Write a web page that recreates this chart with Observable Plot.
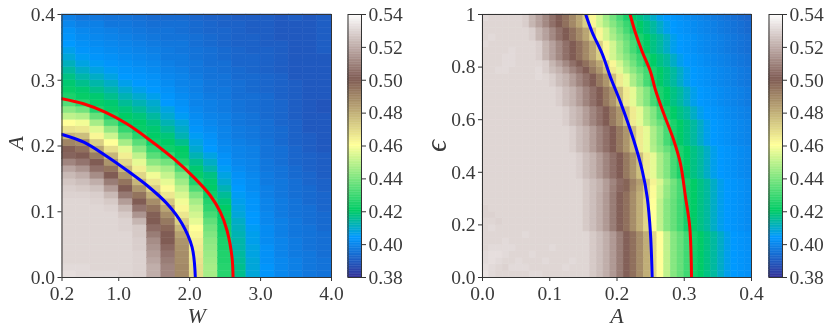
<!DOCTYPE html>
<html><head><meta charset="utf-8">
<script src="https://cdn.jsdelivr.net/npm/d3@7"></script>
<script src="https://cdn.jsdelivr.net/npm/@observablehq/plot@0.6"></script>
<style>
html,body{margin:0;padding:0;background:#fff;}
#chart{position:relative;width:830px;height:333px;overflow:hidden;filter:blur(0.35px);}
#chart svg{position:absolute;top:0;overflow:visible;background:none;}
</style></head><body><div id="chart"></div>
<script>
// Left panel: one list per W column (0.2 wide), values bottom-up per A row (0.01 tall), in thousandths
const leftColumns = [
[532,531,530,530,530,530,530,530,530,530,530,530,529,528,526,523,518,510,502,499,490,478,467,460,450,442,433,424,421,419,417,414,411,408,406,404,403,402,400,398],
[531,531,530,530,530,530,530,530,530,530,530,530,529,527,524,520,514,506,500,495,488,476,466,458,448,438,426,421,419,416,413,410,407,405,403,402,401,400,398,396],
[531,530,530,530,530,530,530,530,530,530,530,529,528,525,520,512,505,500,492,482,472,462,455,446,436,425,421,419,416,413,410,407,405,403,402,401,400,399,398,396],
[531,530,530,530,530,530,530,530,530,530,529,527,523,516,508,500,494,486,478,468,460,452,443,432,424,421,419,416,413,410,407,405,403,402,401,400,399,398,396,395],
[530,530,530,530,530,530,530,529,529,527,523,516,507,500,494,486,478,470,464,456,446,436,428,421,420,418,415,412,409,406,404,403,402,401,400,399,398,397,396,395],
[529,529,529,529,528,528,527,527,522,514,506,500,494,486,478,470,464,456,450,442,434,426,421,420,418,415,412,409,406,404,403,402,401,400,399,398,397,396,395,394],
[520,520,518,516,514,512,508,504,500,499,494,488,480,472,466,458,450,442,434,428,422,420,419,417,414,411,409,406,404,403,402,401,400,399,398,397,396,395,394,393],
[510,510,508,506,503,500,500,497,493,488,482,474,466,461,456,451,446,438,428,422,420,418,415,412,409,407,404,403,402,401,400,399,398,397,397,396,395,395,394,393],
[489,489,488,488,487,486,483,478,472,466,462,458,454,450,445,440,432,425,421,420,416,412,410,408,405,403,402,401,400,399,399,398,397,397,396,396,395,394,394,393],
[468,468,467,466,465,464,462,460,456,453,450,446,440,432,425,421,419,416,412,409,407,405,403,402,401,400,399,399,398,398,397,396,396,395,395,394,394,393,393,392],
[446,446,445,444,443,442,440,438,435,431,427,425,422,420,419,417,413,410,407,404,403,402,401,400,399,398,398,397,396,396,395,395,394,394,394,393,393,392,392,391],
[426,426,425,425,424,424,423,422,421,421,420,418,415,412,409,407,405,403,402,401,400,399,399,398,398,397,397,396,396,395,395,394,394,393,393,392,392,392,391,391],
[416,416,415,414,413,413,412,411,410,408,407,406,405,404,403,402,401,400,399,399,398,397,397,396,396,395,395,394,394,394,393,393,392,392,392,391,391,391,391,390],
[408,408,408,407,407,406,406,405,404,404,403,403,402,401,401,400,399,399,398,398,397,396,396,395,395,394,394,394,393,393,393,392,392,392,391,391,391,390,390,390],
[403,403,402,402,402,401,401,401,400,400,399,399,398,398,397,397,396,396,395,395,395,394,394,394,393,393,393,393,392,392,392,391,391,391,391,390,390,390,390,390],
[400,400,400,399,399,399,398,398,398,397,397,397,396,396,396,395,395,394,394,394,393,393,393,392,392,392,392,391,391,391,391,390,390,390,390,390,389,389,389,389],
[398,398,398,397,397,397,396,396,396,395,395,395,394,394,394,393,393,392,392,392,391,391,391,391,390,390,390,390,390,390,389,389,389,389,389,389,389,389,389,390],
[396,396,396,396,395,395,395,395,394,394,394,393,393,393,392,392,391,391,391,390,390,390,389,389,389,389,389,389,389,389,389,389,389,389,389,389,389,389,389,389],
[395,395,395,394,394,394,394,393,393,393,392,392,392,391,391,390,390,390,390,389,389,389,389,389,389,388,388,389,389,389,389,389,389,389,390,390,390,390,390,390]
];
// Right panel: one list per epsilon row (0.025 tall), bottom-up, values left to right per A column (0.01 wide), in thousandths
const rightRows = [
[533,531,530,530,530,530,530,531,531,530,530,530,530,530,530,530,527,524,520,515,508,501,495,488,480,470,460,450,441,436,430,423,420,417,414,410,406,404,403,402],
[532,531,530,529,531,531,531,530,530,530,530,530,531,530,530,530,527,524,520,515,508,501,495,488,480,470,460,450,441,436,430,423,420,417,414,410,406,404,403,402],
[531,532,531,530,530,531,530,530,530,531,530,530,530,531,530,530,527,524,520,515,508,501,495,488,480,470,460,450,441,436,430,423,420,417,414,410,406,404,403,402],
[531,532,532,531,530,530,530,531,530,530,530,530,530,530,530,530,527,524,520,515,508,501,495,488,480,470,460,450,441,436,430,423,420,417,414,410,406,404,403,402],
[530,531,531,531,531,530,530,530,530,530,531,530,530,530,530,530,527,524,520,515,508,501,495,488,480,470,460,450,441,436,430,423,420,417,414,410,406,404,403,402],
[530,530,530,531,530,530,530,530,530,530,530,530,530,530,530,530,527,524,520,515,508,501,495,488,480,470,460,450,441,436,430,423,420,417,414,410,406,404,403,402],
[530,530,530,530,530,530,531,530,530,530,530,530,530,530,530,530,527,524,520,515,508,501,495,488,480,470,460,450,441,436,430,423,420,417,414,410,406,404,403,402],
[530,531,530,530,530,530,530,530,530,530,530,530,530,530,530,527,524,520,515,508,501,495,488,480,470,460,450,441,436,430,423,420,417,414,410,406,404,403,402,401],
[530,530,529,530,530,530,530,530,530,530,530,530,530,530,530,527,524,520,515,508,501,495,488,480,470,460,450,441,436,430,423,420,417,414,410,406,404,403,402,401],
[529,529,530,530,530,530,530,530,530,530,530,530,530,530,530,527,524,520,515,508,501,495,488,480,470,460,450,441,436,430,423,420,417,414,410,406,404,403,402,401],
[529,530,530,530,530,530,530,530,530,530,530,530,530,530,530,527,524,520,515,508,501,495,488,480,470,460,450,441,436,430,423,420,417,414,410,406,404,403,402,401],
[530,530,530,530,530,530,530,530,530,530,530,530,530,530,530,527,524,520,515,508,501,495,488,480,470,460,450,441,436,430,423,420,417,414,410,406,404,403,402,401],
[530,530,530,530,530,530,530,530,530,530,530,530,530,530,530,527,524,520,515,508,501,495,488,480,472,461,452,443,437,431,423,420,417,414,410,406,404,403,402,401],
[530,530,530,530,530,530,530,530,530,530,530,530,530,530,530,527,524,521,516,509,503,498,490,482,472,461,452,443,437,431,423,420,417,414,410,406,404,403,402,401],
[530,530,530,530,530,530,530,530,530,530,530,530,530,530,530,527,524,521,516,510,504,498,491,484,474,463,454,445,438,431,424,420,417,414,410,406,404,403,402,401],
[530,530,530,530,530,530,530,530,530,530,530,530,530,530,528,524,521,516,510,505,500,493,486,476,465,456,447,440,431,424,420,417,414,410,406,404,403,402,401,400],
[530,530,530,530,530,530,530,530,530,530,530,530,530,530,528,524,521,516,510,505,500,493,486,476,465,456,447,440,431,424,420,417,414,410,406,404,403,402,401,400],
[530,530,530,530,530,530,530,530,530,530,530,530,530,530,528,524,521,516,510,505,500,493,486,476,465,456,447,440,431,424,420,417,414,410,406,404,403,402,401,400],
[530,530,530,530,530,530,530,530,530,530,530,530,530,530,528,524,521,516,510,505,500,493,486,476,465,456,447,440,431,424,420,417,414,410,406,404,403,402,401,400],
[530,530,530,530,530,530,530,530,530,530,530,530,530,528,524,521,516,510,505,500,493,486,476,465,456,448,442,436,430,424,420,417,414,410,406,404,403,402,401,400],
[530,530,530,530,530,530,530,530,530,530,530,530,530,528,524,521,516,510,505,500,493,486,476,465,456,447,440,431,424,420,417,414,410,406,404,403,402,401,400,399],
[530,530,530,530,530,530,530,530,530,530,530,530,530,528,524,521,516,510,505,500,493,486,476,465,456,447,440,431,424,420,417,414,410,406,404,403,402,401,400,399],
[530,530,530,530,530,530,530,530,530,530,530,530,530,528,524,521,516,510,505,500,493,486,476,465,456,447,440,431,424,420,417,414,410,406,404,403,402,401,400,399],
[530,530,530,530,530,530,530,530,530,530,530,530,528,524,521,516,510,505,500,493,486,476,465,456,448,442,436,430,424,420,417,414,410,406,404,403,402,401,400,399],
[530,530,530,530,530,530,530,530,530,530,530,530,528,524,521,516,510,505,500,493,486,476,465,456,447,440,431,424,420,417,414,410,406,404,403,402,401,400,399,398],
[530,530,530,530,530,530,530,530,530,530,530,530,528,524,521,516,510,505,500,493,486,476,465,456,447,440,431,424,420,417,414,410,406,404,403,402,401,400,399,398],
[530,530,530,530,530,530,530,530,530,530,530,528,524,521,516,510,505,500,493,486,476,465,456,447,440,431,424,420,417,414,410,406,404,403,402,401,400,399,398,397],
[530,530,530,530,530,530,530,530,530,530,530,528,524,521,516,510,505,500,493,486,476,465,456,447,440,431,424,420,417,414,410,406,404,403,402,401,400,399,398,397],
[530,530,530,530,530,530,530,530,530,530,530,528,524,521,516,510,505,500,493,486,476,465,456,447,440,431,424,420,417,414,410,406,404,403,402,401,400,399,398,397],
[530,530,530,530,530,530,530,530,530,530,528,524,521,516,510,505,500,493,486,476,465,456,447,440,431,424,420,417,414,410,406,404,403,402,401,400,399,398,397,396],
[530,530,530,530,530,530,530,530,531,530,528,524,521,516,510,505,500,493,486,476,465,456,447,440,431,424,420,417,414,410,406,404,403,402,401,400,399,398,397,396],
[530,530,531,531,530,530,530,530,531,528,524,521,516,510,505,500,493,486,476,465,456,448,442,436,430,424,420,417,414,410,406,404,403,402,401,400,399,398,397,396],
[530,530,530,531,531,530,530,530,530,528,522,517,511,505,500,495,489,482,472,462,453,445,438,431,424,420,417,414,410,406,404,403,402,401,400,399,398,397,396,395],
[530,530,530,531,531,530,530,530,528,522,517,511,505,500,495,489,482,472,462,453,447,441,435,429,424,420,417,414,410,406,404,403,402,401,400,399,398,397,396,395],
[530,530,530,530,531,530,530,530,528,522,517,511,505,500,495,489,482,472,462,453,445,438,431,424,420,417,414,410,406,404,403,402,401,400,399,398,397,396,395,394],
[531,530,530,530,530,530,530,530,528,522,517,511,505,500,495,489,482,472,462,453,445,438,431,424,420,417,414,410,406,404,403,402,401,400,399,398,397,396,395,394],
[530,531,530,530,530,530,530,528,522,517,511,505,500,495,489,482,472,462,453,447,441,435,429,424,420,417,414,410,406,404,403,402,401,400,399,398,397,396,395,394],
[530,530,530,530,530,530,530,528,522,517,511,505,500,495,489,482,472,462,453,445,438,431,424,420,417,414,410,406,404,403,402,401,400,399,398,397,396,395,394,393],
[530,530,530,530,530,530,528,522,517,511,505,500,495,489,482,472,462,453,447,441,435,429,424,420,417,414,410,406,404,403,402,401,400,399,398,397,396,395,394,393],
[531,530,530,530,530,530,528,522,517,511,505,500,495,489,482,472,462,453,445,438,431,424,420,417,414,410,406,404,403,402,401,400,399,398,397,396,395,394,393,392]
];
const leftBlueW = [.2,.507,.813,1.118,1.4,1.682,1.893,2.034,2.08];
const leftBlueA = [.2175,.2058,.1855,.1627,.1399,.1121,.0817,.0461,0];
const leftRedW = [.2,.503,.809,1.114,1.446,1.774,2.056,2.291,2.433,2.527,2.597,2.612];
const leftRedA = [.2718,.2642,.2515,.2337,.2084,.1807,.1527,.1247,.0993,.0715,.0309,0];
const rightBlueEps = [0,.1662,.3053,.4068,.5209,.6665,.7616,.8506,.9327,1];
const rightBlueA = [.2523,.2498,.2449,.2375,.225,.2052,.1903,.178,.1631,.1535];
const rightRedEps = [0,.1913,.3053,.4323,.5209,.6224,.7129,.7825,.8585,.9297,1];
const rightRedA = [.3108,.3082,.3019,.2944,.2845,.2696,.2572,.2498,.2375,.2275,.2195];
const leftXTicks = [.2,1,2,3,4];
const leftYTicks = [0,.1,.2,.3,.4];
const rightXTicks = [0,.1,.2,.3,.4];
const rightYTicks = [0,.2,.4,.6,.8,1];
const barTicks = [.38,.40,.42,.44,.46,.48,.50,.52,.54];

const FONT = "'Liberation Serif', serif";
const INK = "#3a3a3a";
const colorScale = {
  type: "linear",
  domain: [.38,.404,.42,.46,.50,.54],
  range: ["rgb(51,51,153)","rgb(0,153,255)","rgb(0,204,102)","rgb(255,255,153)","rgb(128,92,84)","rgb(255,255,255)"],
  clamp: true
};
const TICK = 19.5;
const chart = document.getElementById("chart");
function place(svg, left){ svg.style.left = left + "px"; chart.appendChild(svg); }

function panel({left, marginLeft, marginRight, xDomain, yDomain, cells, blue, red, xTicks, yTicks, yFormat, xLabel, yLabel, yLabelSize, yLabelDx, yLabelDy}) {
  place(Plot.plot({
    width: 345, height: 333, marginLeft, marginRight, marginTop: 14, marginBottom: 56,
    style: {fontFamily: FONT, background: "none"},
    x: {domain: xDomain}, y: {domain: yDomain}, color: colorScale,
    marks: [
      Plot.rect(cells, {x1:"x1", x2:"x2", y1:"y1", y2:"y2", fill:"v", stroke:"v", strokeWidth:.5}),
      Plot.line(red, {x:"x", y:"y", stroke:"rgb(255,0,0)", strokeWidth:3, curve:"catmull-rom", clip:true}),
      Plot.line(blue, {x:"x", y:"y", stroke:"rgb(0,0,255)", strokeWidth:3, curve:"catmull-rom", clip:true}),
      Plot.frame({stroke:"#333", strokeWidth:1}),
      Plot.axisX({ticks:xTicks, tickFormat:d3.format(".1f"), tickSize:4, tickPadding:5, fontSize:TICK, label:null, stroke:"#333", fill:INK}),
      Plot.axisY({ticks:yTicks, tickFormat:yFormat, tickSize:4, tickPadding:3, fontSize:TICK, label:null, stroke:"#333", fill:INK}),
      Plot.text([xLabel], {frameAnchor:"bottom", dy:45, fontStyle:"italic", fontSize:22, fill:INK}),
      Plot.text([yLabel], {frameAnchor:"left", textAnchor:"middle", dx:yLabelDx, dy:yLabelDy, rotate:-90, fontStyle:"italic", fontSize:yLabelSize, fill:INK})
    ]
  }), left);
}
function colorbar(left) {
  const levels = d3.range(.38, .54, .001);
  place(Plot.plot({
    width: 70, height: 333, marginLeft: 7.5, marginRight: 49, marginTop: 14, marginBottom: 56,
    style: {fontFamily: FONT, background: "none"},
    x: {domain:[0,1], axis:null}, y: {domain:[.38,.54]}, color: colorScale,
    marks: [
      Plot.rect(levels, {x1:0, x2:1, y1:d=>d, y2:d=>d+.001, fill:d=>d, stroke:d=>d, strokeWidth:.4}),
      Plot.frame({stroke:"#333", strokeWidth:1}),
      Plot.axisY({anchor:"right", ticks:barTicks, tickFormat:d3.format(".2f"), tickSize:4, tickPadding:3, fontSize:TICK, label:null, stroke:"#333", fill:INK})
    ]
  }), left);
}

const leftCells = leftColumns.flatMap((col,i)=>col.map((v,j)=>({x1:.2+.2*i, x2:.4+.2*i, y1:.01*j, y2:.01*(j+1), v:v/1000})));
const rightCells = rightRows.flatMap((row,j)=>row.map((v,i)=>({x1:.01*i, x2:.01*(i+1), y1:.025*j, y2:.025*(j+1), v:v/1000})));
const zip = (xs,ys)=>xs.map((x,i)=>({x, y:ys[i]}));

panel({left:0, marginLeft:61.5, marginRight:14, xDomain:[.2,4], yDomain:[0,.4], cells:leftCells,
  blue:zip(leftBlueW,leftBlueA), red:zip(leftRedW,leftRedA), xTicks:leftXTicks, yTicks:leftYTicks,
  yFormat:d3.format(".1f"), xLabel:"W", yLabel:"A", yLabelSize:22, yLabelDx:-46, yLabelDy:-3});
colorbar(340);
panel({left:415, marginLeft:67, marginRight:9, xDomain:[0,.4], yDomain:[0,1], cells:rightCells,
  blue:zip(rightBlueA,rightBlueEps), red:zip(rightRedA,rightRedEps), xTicks:rightXTicks, yTicks:rightYTicks,
  yFormat:d=>d===1?"1":d.toFixed(1), xLabel:"A", yLabel:"ϵ", yLabelSize:30, yLabelDx:-46, yLabelDy:0});
colorbar(760.5);
</script></body></html>
